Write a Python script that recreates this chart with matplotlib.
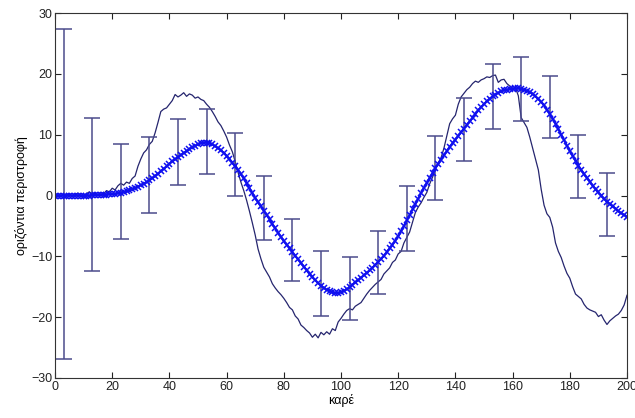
import numpy as np
import matplotlib
matplotlib.use("Agg")
import matplotlib.pyplot as plt

# mean rotation per frame (0..200)
mean_rot = [
    0.0, 0.0, 0.0, 0.0, 0.0, 0.0, 0.0, 0.0, 0.0, 0.0,
    0.0, 0.0, 0.0, 0.05, 0.1, 0.1, 0.1, 0.15, 0.15, 0.2,
    0.25, 0.3, 0.35, 0.45, 0.55, 0.7, 0.85, 1.0, 1.2, 1.45,
    1.7, 1.95, 2.2, 2.5, 2.85, 3.2, 3.6, 4.0, 4.4, 4.8,
    5.2, 5.6, 5.95, 6.3, 6.65, 7.0, 7.3, 7.6, 7.9, 8.15,
    8.4, 8.6, 8.7, 8.7, 8.6, 8.4, 8.1, 7.8, 7.4, 7.0,
    6.5, 6.0, 5.4, 4.8, 4.2, 3.5, 2.8, 2.0, 1.2, 0.4,
    -0.4, -1.1, -1.8, -2.5, -3.2, -3.9, -4.7, -5.4, -6.1, -6.8,
    -7.5, -8.1, -8.7, -9.3, -9.9, -10.5, -11.1, -11.7, -12.3, -12.9,
    -13.4, -13.9, -14.4, -14.8, -15.2, -15.5, -15.7, -15.9, -16.0, -16.0,
    -15.9, -15.7, -15.4, -15.1, -14.7, -14.3, -13.9, -13.5, -13.1, -12.7,
    -12.3, -11.9, -11.4, -10.9, -10.4, -9.9, -9.3, -8.7, -8.1, -7.4,
    -6.7, -5.9, -5.0, -4.1, -3.2, -2.3, -1.4, -0.5, 0.4, 1.3,
    2.1, 2.9, 3.7, 4.5, 5.2, 5.9, 6.6, 7.3, 8.0, 8.6,
    9.2, 9.8, 10.4, 11.0, 11.6, 12.2, 12.8, 13.4, 14.0, 14.5,
    15.0, 15.5, 15.9, 16.3, 16.6, 16.9, 17.1, 17.3, 17.4, 17.5,
    17.5, 17.6, 17.6, 17.5, 17.4, 17.2, 17.0, 16.7, 16.3, 15.9,
    15.4, 14.8, 14.1, 13.4, 12.6, 11.8, 10.9, 10.0, 9.1, 8.2,
    7.3, 6.5, 5.7, 4.9, 4.2, 3.5, 2.9, 2.3, 1.6, 1.0,
    0.5, 0.0, -0.5, -1.0, -1.4, -1.8, -2.2, -2.6, -2.9, -3.2,
    -3.5,
]

# single measured sequence per frame (0..200)
measured = [
    0.0, 0.1, -0.1, 0.2, 0.0, 0.3, -0.2, 0.1, 0.4, 0.0,
    -0.2, 0.3, 0.6, 0.2, 0.4, 0.1, 0.5, 0.3, 0.8, 0.6,
    1.2, 0.9, 1.6, 2.0, 1.7, 2.2, 2.0, 2.8, 3.2, 4.8,
    6.0, 7.0, 7.5, 8.4, 8.9, 10.3, 12.0, 13.8, 14.2, 14.4,
    15.0, 15.6, 16.6, 16.2, 16.5, 16.9, 16.3, 16.7, 16.5, 16.0,
    16.2, 15.8, 15.6, 15.0, 14.5, 13.8, 13.0, 12.1, 11.5, 10.6,
    9.6, 8.3, 7.2, 5.6, 3.8, 2.2, 0.8, -0.8, -2.6, -4.5,
    -6.5, -8.8, -10.4, -11.8, -12.6, -13.4, -14.5, -15.2, -15.8, -16.3,
    -16.9, -17.6, -18.4, -18.8, -19.8, -20.3, -21.3, -21.7, -22.2, -22.6,
    -23.3, -22.8, -23.4, -22.5, -22.9, -22.4, -22.8, -21.9, -22.2, -20.8,
    -20.2, -19.5, -18.9, -18.6, -18.8, -18.2, -17.9, -17.6, -16.9, -16.2,
    -15.6, -15.1, -14.6, -14.2, -13.8, -12.9, -12.4, -11.9, -11.0, -10.6,
    -9.6, -9.2, -7.8, -6.9, -6.0, -4.4, -2.8, -1.9, -1.2, -0.3,
    0.5, 1.9, 3.0, 4.3, 5.4, 6.2, 7.8, 9.8, 11.8, 12.6,
    13.2, 15.0, 16.2, 16.8, 17.4, 17.8, 18.4, 18.8, 18.6, 19.0,
    19.2, 19.5, 19.4, 19.7, 19.8, 18.6, 19.0, 19.1, 18.4, 18.0,
    17.6, 17.7, 16.4, 12.8, 12.0, 11.2, 9.6, 7.8, 6.0, 4.2,
    1.0, -1.6, -3.0, -3.6, -5.2, -7.8, -9.2, -10.2, -11.6, -12.8,
    -13.6, -15.0, -16.2, -16.6, -17.0, -17.9, -18.5, -18.8, -19.0, -19.2,
    -19.9, -19.6, -20.5, -21.2, -20.6, -20.2, -19.8, -19.5, -18.9, -18.0,
    -16.4,
]

# error bars: frame, upper end, lower end
err_frames = [3, 13, 23, 33, 43, 53, 63, 73, 83, 93,
              103, 113, 123, 133, 143, 153, 163, 173, 183, 193]
err_top = [27.4, 12.8, 8.5, 9.6, 12.6, 14.2, 10.2, 3.2, -3.8, -9.2,
           -10.1, -5.8, 1.5, 9.7, 16.1, 21.6, 22.7, 19.7, 9.9, 3.7]
err_bot = [-26.9, -12.4, -7.2, -2.8, 1.7, 3.6, -0.1, -7.3, -14.1, -19.8,
           -20.4, -16.2, -9.1, -0.7, 5.7, 11.0, 12.3, 9.4, -0.4, -6.6]

plt.rcParams['font.family'] = ['Liberation Sans', 'DejaVu Sans']

fig = plt.figure(figsize=(6.35, 4.18), dpi=100)
ax = fig.add_axes([55 / 635, 40 / 418, 572 / 635, 365 / 418])

frames = np.arange(len(mean_rot))
ax.plot(np.arange(len(measured)), measured, color='#25256e', lw=0.9)

top = np.array(err_top)
bot = np.array(err_bot)
mid = (top + bot) / 2
half = (top - bot) / 2
ax.errorbar(err_frames, mid, yerr=half, fmt='none', ecolor='#4b4b8c',
            elinewidth=1.1, capsize=6, capthick=1.1)

ax.plot(frames, mean_rot, color='#1010f0', lw=1.6, marker='x', ms=5,
        mew=1.1)

ax.set_xlim(0, 200)
ax.set_ylim(-30, 30)
ax.set_xticks(np.arange(0, 201, 20))
ax.set_yticks(np.arange(-30, 31, 10))
ax.tick_params(direction='in', top=True, right=True, length=4,
               labelsize=9, colors='#222222', pad=2)
for s in ax.spines.values():
    s.set_linewidth(0.8)
    s.set_color('#333333')

ax.set_xlabel('καρέ', fontsize=9, labelpad=1)
ax.set_ylabel('οριζόντια περιστροφή', fontsize=9, labelpad=2)

fig.savefig('out.png', dpi=100)
